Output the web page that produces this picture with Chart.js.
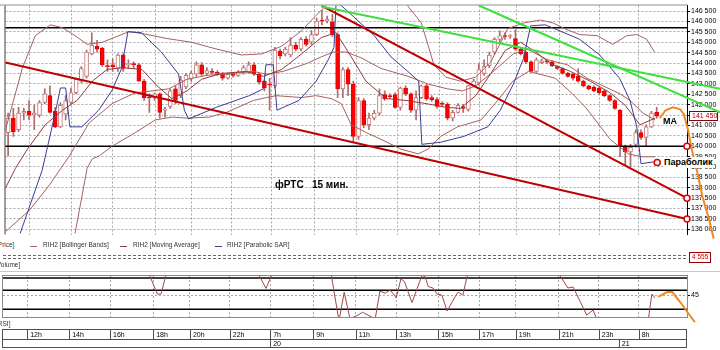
<!DOCTYPE html>
<html lang="ru">
<head>
<meta charset="UTF-8">
<title>фРТС 15 мин.</title>
<script src="https://cdn.jsdelivr.net/npm/chart.js@4"></script>
<style>
  body { margin: 0; background: #fff; }
  #wrap { position: relative; width: 720px; height: 350px; overflow: hidden;
          font-family: 'Liberation Sans', Arial, sans-serif; }
  canvas { position: absolute; left: 0; }
  #priceChart { top: 0; }
  #rsiChart { top: 270px; }
  .lbl { position: absolute; white-space: pre; line-height: 1; }
  .small { font-size: 6.5px; color: #333; }
  .note { font-weight: bold; color: #000; }
  .dash { position: absolute; width: 7px; height: 0; border-top: 1px solid; }
</style>
</head>
<body>
<div id="wrap">
  <canvas id="priceChart" width="720" height="240"></canvas>
  <canvas id="rsiChart" width="720" height="80"></canvas>

  <div class="lbl note" style="left:275px;top:180px;font-size:10px">фРТС   15 мин.</div>
  <div class="lbl note" style="left:663px;top:117px;font-size:9px">MA</div>
  <div class="lbl note" style="left:664px;top:157px;font-size:9px;background:#fff;padding:1px 1px 1px 0">Параболик</div>

  <div class="lbl small" style="left:-4px;top:242px">[Price]</div>
  <div class="dash" style="left:30px;top:246px;border-color:#a86060"></div>
  <div class="lbl small" style="left:43px;top:242px">RIH2 [Bollinger Bands]</div>
  <div class="dash" style="left:120px;top:246px;border-color:#8c3c3c"></div>
  <div class="lbl small" style="left:133px;top:242px">RIH2 [Moving Average]</div>
  <div class="dash" style="left:215px;top:246px;border-color:#3c3c96"></div>
  <div class="lbl small" style="left:227px;top:242px">RIH2 [Parabolic SAR]</div>

  <div style="position:absolute;left:3px;top:255px;width:683px;height:2px;border-top:1px dashed #666;border-bottom:1px dashed #666"></div>
  <div class="lbl small" style="left:689px;top:252px;border:1px solid #900;color:#c00;padding:1px 2px;background:#fff">4 555</div>
  <div class="lbl small" style="left:-5px;top:262px">[Volume]</div>
  <div style="position:absolute;left:0;top:271px;width:720px;height:1px;background:#c8c8c8"></div>
  <div class="lbl small" style="left:-4px;top:321px">[RSI]</div>
</div>

<script>
  // 15-minute candles, RIH2
  const opens = [140650,141350,140790,141590,141680,141490,141490,142100,142430,141680,
    140930,141540,142100,142570,143130,143360,144440,144810,144720,143880,
    143920,143740,144390,143920,143970,143920,143130,142340,142340,142520,
    141730,141910,142760,142430,142850,143220,143460,143920,143500,143600,
    143550,143460,143270,143460,143410,143500,143550,143920,143460,143130,
    142990,142900,144580,144440,144390,144860,144670,145140,145000,145370,
    146070,146020,145980,145370,142760,143690,142990,140470,142200,141030,
    141350,141590,142480,142430,142480,141870,142800,142520,141730,142340,
    142900,142340,142240,142050,142010,141350,141630,141910,141770,142900,
    143040,143500,143880,144530,145140,145320,145280,145180,144670,144530,
    144060,143600,144020,144110,144060,143830,143740,143500,143460,143360,
    143130,142900,142850,142800,142660,142430,142200,141730,140000,139720,
    140090,140650,140420,140930,141630];
  const highs = [141590,141820,141870,141820,142200,141960,142200,142760,142900,141870,
    142100,142430,142800,143270,143830,144620,145460,145090,144760,144160,
    144200,144440,144440,144160,144060,143970,143220,142520,142570,142570,
    141870,142760,142900,143360,143500,143600,144060,144020,143780,143740,
    143640,143550,143500,143550,143640,143880,144060,144020,143500,143180,
    143270,144760,144670,144760,145230,145000,145230,145280,145560,146160,
    146540,146260,146350,145460,143780,143780,143130,142340,142290,141590,
    141730,142760,142660,142520,142570,142850,142900,142570,142660,142940,
    142990,142430,142340,142150,142100,141730,142050,142010,142940,143220,
    143970,144160,144530,145230,145550,145460,145370,145600,144720,144580,
    144110,144250,144200,144160,144110,143880,143780,143550,143500,143740,
    143180,142940,142900,142850,142710,142480,142240,141770,140050,140090,
    140790,140790,141030,141680,141870];
  const lows = [139530,140470,140700,141260,141260,140790,141400,142050,141590,140890,
    140890,141260,142050,142520,143040,143270,144390,144530,143830,143600,
    143600,143600,143600,143740,143740,143130,142200,141630,142200,141350,
    141400,141820,142050,142340,142760,143130,143360,143410,143410,143460,
    143410,143180,143220,143320,143360,143460,143500,143410,142990,142660,
    141730,142800,144200,144340,144300,144580,144580,144810,144900,145320,
    145840,145930,145280,142340,142340,142430,140230,140330,140890,140790,
    141260,141490,142200,142290,141820,141730,142430,141630,141260,142290,
    142200,142150,141820,141910,141260,141210,141590,141630,141680,142850,
    142940,143410,143780,144440,145000,145140,145180,144620,144390,143970,
    143550,143550,143970,143970,143830,143690,143460,143320,143180,143080,
    142850,142710,142620,142520,142380,142150,141770,139490,139070,139020,
    139950,140330,140000,140890,141350];
  const closes = [141350,140700,141590,141680,141490,141590,142100,142520,141630,140930,
    141960,142200,142570,143220,143740,144530,144860,144670,143920,143830,
    143830,144390,143740,143970,143920,143130,142340,142320,142520,141630,
    141770,142660,142200,143180,143410,143500,143920,143460,143640,143550,
    143500,143270,143460,143410,143550,143780,143920,143460,143080,142800,
    142940,144620,144340,144670,144860,144670,145140,144900,145370,146020,
    146020,146120,145370,142760,143690,142990,140470,142200,141030,141350,
    141590,142430,142290,142380,141870,142800,142520,141730,142340,142900,
    142290,142240,141910,142010,141350,141630,141960,141820,142900,143130,
    143690,143830,144390,145140,145320,145280,145320,144670,144440,144060,
    143600,144160,144110,144060,143880,143740,143500,143360,143270,143130,
    142900,142760,142660,142570,142430,142200,141820,140000,139720,139950,
    140650,140420,140930,141590,141450];

  // indicators as [candle index, price]
  const bbUpper = [[-0.5,140790],[2.7,143740],[5.2,145320],[8.1,145840],[10.4,145700],[12.8,145320],
    [15.1,144900],[18,145000],[23.1,145510],[25.6,145420],[30.4,145180],[35.1,145000],[39.9,144670],
    [44.6,144390],[48.5,144440],[52.3,144810],[56.1,145560],[58.9,146300],[60.8,146770],[62.7,147800],
    [74.2,147800],[76.5,146720],[79,145930],[80.3,144860],[81.4,143920],[83.7,143320],[86.5,143130],
    [89.4,143320],[92.3,144060],[95.5,145650],[98.5,145930],[101.8,146070],[104.2,145930],[106.9,145600],
    [109.3,145370],[112.6,145320],[115.6,144900],[118.3,145320],[120.2,145370],[122.1,145140],[123.6,144530]];
  const bbMiddle = [[-0.5,135890],[4.1,136920],[7.9,138130],[11.7,139530],[15.5,141120],[19.9,142050],
    [24.3,142570],[27.5,142660],[30.7,142760],[34.2,143220],[38,143410],[43.1,143500],[46.9,143600],
    [49.4,143460],[52.6,143600],[57,143970],[59.9,144300],[62.2,144530],[64.6,144530],[67.5,144250],
    [71.3,143740],[76.5,143360],[80.3,142990],[84,142760],[86.9,142660],[89.4,142900],[92.3,143500],
    [96.6,144440],[99.3,144670],[103.1,144160],[106.9,143920],[110.7,143270],[114.6,142800],[117,142520],
    [118.9,142200],[121.4,141590],[123.7,141260]];
  const bbLower = [[12.8,135800],[15.1,138930],[16.1,139390],[17.4,139530],[19.9,140000],[24.3,140650],
    [28.1,141260],[31.3,141400],[34.2,141350],[38.5,141400],[41.8,141630],[46.9,142200],[49.4,142340],
    [51.3,142430],[56.1,142340],[58.9,142430],[61.8,142290],[63.7,142050],[65.6,141030],[68.5,140650],
    [71.3,140330],[75.1,139860],[78.4,139630],[80.3,139860],[82.7,140470],[85.9,140930],[90.4,141260],
    [93.6,142200],[96.5,143130],[99.5,143600],[104.6,143270],[107.9,142520],[110.4,141870],[112.3,141260],
    [115.1,140330],[118.6,139630],[121.2,139490],[123.7,139490]];
  const movingAvg = [[-0.5,137990],[1.4,138930],[3.7,139860],[7.1,141030],[10.4,141730],[13.2,142200],
    [16.1,143130],[18.9,143690],[21.8,143780],[25.6,143690],[28.5,142900],[31.3,142290],[34.2,142660],
    [37,143220],[40.8,143500],[45.6,143600],[48.8,143360],[52.3,143690],[56.1,144440],[59.9,145230],
    [62.7,145460],[65.6,144300],[68.4,143130],[72.3,142290],[76.1,142200],[79.9,142050],[83.7,141870],
    [86.5,141820],[89.4,142430],[92.3,143500],[95.1,144620],[98,145000],[100.9,144530],[103.7,143970],
    [107.5,143600],[111.3,143130],[115.1,142570],[118,141960],[120.8,141030],[123.7,141350]];
  const parabolicSar = [[2.3,135800],[6.5,138830],[9,141590],[10,142800],[11,142800],[11.8,140930],
    [14.1,140930],[17.3,141730],[19.8,142660],[21.7,143740],[22.9,145510],[25.5,145460],[29.3,144530],
    [32.6,143460],[33.7,141730],[34.5,141310],[39.8,141870],[46.1,142430],[48.8,142760],[49.3,143920],
    [50.7,143920],[51.4,141730],[55.6,142200],[58.9,143130],[61.3,144200],[62.3,144760],[62.7,146870],
    [63.7,146770],[70,145320],[73.2,144300],[76.4,143600],[78.5,143130],[79.1,140090],[82.7,140190],
    [87.1,140470],[91.7,140930],[94.1,141730],[96.6,142990],[98.5,144200],[99.9,145790],[102.7,145840],
    [105,145600],[109.3,145140],[113.1,144390],[116.9,143270],[118.9,142200],[120.2,140930],[121,139160],
    [123.6,139250]];

  // hand-drawn lines
  const channelLow = [[-0.5,144030],[129.8,136500]];
  const channelHigh = [[59.9,146770],[129.8,137500]];
  const greenSteep = [[90,146770],[136.1,141630]];
  const greenFlat = [[59.9,146720],[136.1,142760]];
  const levelPrices = [145700, 140000];
  const forecast = [[124.6,141350],[125.7,141730],[127.1,141870],[128.5,141770],[129.2,141540],
    [130,140790],[130.7,139860],[131.7,138830],[132.8,137530],[134,136500],[134.9,135560]];
  const markers = [[129.8,140000],[129.8,137500],[129.8,136500],[124.1,139210]];

  // RSI
  const rsi = [[-0.5,74],[26.8,74],[28.9,46],[29.6,46],[30.4,63],[31,74],[47.5,74],[49.6,52],[51.3,74],
    [61.8,74],[63.5,18],[64.5,48],[65.6,20],[67.1,24],[68,27],[70.4,20],[71.3,49],[72.3,47],[73.2,50],
    [73.8,47],[74.4,42],[75.3,62],[76,59],[77.4,37],[78.4,52],[79.3,65.5],[79.9,64.5],[80.5,54],
    [81.4,52.4],[82.2,46],[83.1,45],[84.1,28.3],[85.6,43],[86.2,48.2],[87.1,45],[88,67],[104,74],
    [105.8,64],[107.1,52.4],[108.1,53.5],[110.7,24],[111.9,29.3],[112.6,20],[121.5,18],[122.5,22],
    [123.1,46],[123.7,42]];
  const rsiForecast = [[124.3,43],[126,48.2],[127,48.2],[128.5,37.7],[130,26.2],[131.3,16.7]];
  const rsiLevels = [63, 50, 30];

  // axes
  const priceTicks = [136000,136500,137000,137500,138000,138500,139000,139500,140000,140500,
    141000,141500,142000,142500,143000,143500,144000,144500,145000,145500,146000,146500];
  const timeLabels = ['12h','14h','16h','18h','20h','22h','7h','9h','11h','13h','15h','17h','19h','21h','23h','8h'];
  const timeTickIdx = [4.1,12.1,19.9,28.1,35.1,42.7,50.4,58.6,66.7,74.4,82.4,90.2,97.2,105.4,113,120.6];
  const dayLabels = ['20', '21'];
  const dayTickIdx = [50.4, 116.8];

  const X_MIN = -0.5, X_MAX = 129.8;
  const FONT = "'Liberation Sans', Arial, sans-serif";
  Chart.defaults.font.family = FONT;

  const fmt = v => String(v).replace(/\B(?=(\d{3})+(?!\d))/g, ' ');
  const isUp = i => closes[i] >= opens[i];
  const fixX = s => { s.min = X_MIN; s.max = X_MAX; };

  function lineSet(points, color, width, order, extra) {
    return Object.assign({
      type: 'line', data: points, borderColor: color, borderWidth: width,
      pointRadius: 0, fill: false, tension: 0, order: order
    }, extra || {});
  }

  const priceFrame = {
    id: 'priceFrame',
    beforeDatasetsDraw(chart) {
      const { ctx, chartArea: a, scales } = chart;
      ctx.save();
      ctx.strokeStyle = '#909090';
      ctx.lineWidth = 1;
      ctx.beginPath();
      ctx.moveTo(0, a.top - 0.5);
      ctx.lineTo(a.right, a.top - 0.5);
      ctx.stroke();
      ctx.strokeStyle = '#404040';
      ctx.beginPath();
      ctx.moveTo(a.left - 0.5, a.top);
      ctx.lineTo(a.left - 0.5, a.bottom);
      ctx.stroke();

      // last price tag on the axis
      const last = closes[closes.length - 1];
      const y = Math.round(scales.y.getPixelForValue(last));
      const x = a.right + 2;
      ctx.fillStyle = '#fff';
      ctx.fillRect(x, y - 5, 29, 10);
      ctx.strokeStyle = '#8b0000';
      ctx.strokeRect(x + 0.5, y - 4.5, 28, 9);
      ctx.fillStyle = '#b00000';
      ctx.font = '7px ' + FONT;
      ctx.textBaseline = 'middle';
      ctx.fillText(fmt(last), x + 3, y + 0.5);
      ctx.restore();
    }
  };

  new Chart(document.getElementById('priceChart'), {
    type: 'bar',
    data: {
      datasets: [
        {
          type: 'bar', label: 'wicks',
          data: closes.map((c, i) => ({ x: i, y: [lows[i], highs[i]] })),
          backgroundColor: '#b06a6a', barThickness: 1, grouped: false, order: 20
        },
        {
          type: 'bar', label: 'bodies',
          data: closes.map((c, i) => ({ x: i, y: [opens[i], c] })),
          backgroundColor: ctx => isUp(ctx.dataIndex) ? '#ffffff' : '#ff0000',
          borderColor: ctx => isUp(ctx.dataIndex) ? '#c27878' : '#e80000',
          borderWidth: 1, borderSkipped: false, barThickness: 4, minBarLength: 1,
          grouped: false, order: 19
        },
        lineSet([[X_MIN, levelPrices[0]], [X_MAX, levelPrices[0]]], '#000', 1.5, 8),
        lineSet([[X_MIN, levelPrices[1]], [X_MAX, levelPrices[1]]], '#000', 1.5, 8),
        lineSet(bbUpper, '#a86060', 1, 7),
        lineSet(bbMiddle, '#a86060', 1, 7),
        lineSet(bbLower, '#a86060', 1, 7),
        lineSet(movingAvg, '#8c3c3c', 1, 6),
        lineSet(parabolicSar, '#3c3c96', 1, 5),
        lineSet(channelLow, '#c00000', 2, 4),
        lineSet(channelHigh, '#c00000', 2, 4),
        lineSet(greenSteep, '#3ee03e', 2, 3, { clip: false }),
        lineSet(greenFlat, '#3ee03e', 2, 3, { clip: false }),
        lineSet(forecast, '#f28a1e', 2, 2, { clip: false }),
        lineSet(markers, '#e00000', 1, 1, {
          showLine: false, clip: false, pointRadius: 3, pointBorderWidth: 1.5,
          pointBorderColor: '#e00000', pointBackgroundColor: '#fff'
        })
      ]
    },
    options: {
      responsive: false,
      animation: false,
      layout: { padding: { top: 2, left: 3, right: 0, bottom: 2 } },
      plugins: { legend: { display: false }, tooltip: { enabled: false } },
      scales: {
        x: {
          type: 'linear', bounds: 'data', offset: false,
          afterDataLimits: fixX,
          afterBuildTicks: s => { s.ticks = timeTickIdx.map(v => ({ value: v })); },
          ticks: { display: false },
          grid: { color: '#a8a8a8', drawTicks: false, offset: false },
          border: { display: false, dash: [2, 2] },
          afterFit: s => { s.height = 0; }
        },
        y: {
          position: 'right', min: 135750, max: 146770,
          afterBuildTicks: s => { s.ticks = priceTicks.map(v => ({ value: v })); },
          ticks: { autoSkip: false, font: { size: 7 }, color: '#000', padding: 1, callback: v => fmt(v) },
          grid: { color: '#a8a8a8', tickColor: '#000', tickLength: 3 },
          border: { display: true, color: '#000', dash: [2, 2] },
          afterFit: s => { s.width = 33; }
        }
      }
    },
    plugins: [priceFrame]
  });

  const rsiFrame = {
    id: 'rsiFrame',
    beforeDatasetsDraw(chart) {
      const { ctx, chartArea: a, scales } = chart;
      ctx.save();
      ctx.lineWidth = 1;
      ctx.strokeStyle = '#8a8a8a';
      ctx.strokeRect(a.left - 0.5, a.top - 0.5, a.right - a.left + 1, a.bottom - a.top + 1);
      // time axis boxes
      const r1 = 59.5, r2 = 69.5, r3 = 77.5;
      ctx.strokeStyle = '#505050';
      ctx.strokeRect(a.left - 0.5, r1, a.right - a.left, r3 - r1);
      ctx.beginPath();
      ctx.moveTo(a.left, r2);
      ctx.lineTo(a.right, r2);
      timeTickIdx.forEach(v => {
        const x = Math.round(scales.x.getPixelForValue(v)) + 0.5;
        ctx.moveTo(x, r1); ctx.lineTo(x, r2);
      });
      dayTickIdx.forEach(v => {
        const x = Math.round(scales.x.getPixelForValue(v)) + 0.5;
        ctx.moveTo(x, r2); ctx.lineTo(x, r3);
      });
      ctx.stroke();
      ctx.restore();
    }
  };

  new Chart(document.getElementById('rsiChart'), {
    type: 'line',
    data: {
      datasets: [
        lineSet([[X_MIN, rsiLevels[0]], [X_MAX, rsiLevels[0]]], '#000', 1.5, 5),
        lineSet([[X_MIN, rsiLevels[1]], [X_MAX, rsiLevels[1]]], '#000', 1.5, 5),
        lineSet([[X_MIN, rsiLevels[2]], [X_MAX, rsiLevels[2]]], '#000', 1.5, 5),
        lineSet(rsi, '#a04848', 1, 3),
        lineSet(rsiForecast, '#f28a1e', 2, 1, { clip: false })
      ]
    },
    options: {
      responsive: false,
      animation: false,
      layout: { padding: { top: 6, left: 3, right: 0, bottom: 0 } },
      plugins: { legend: { display: false }, tooltip: { enabled: false } },
      scales: {
        x: {
          type: 'linear', bounds: 'data', position: 'bottom', weight: 0,
          afterDataLimits: fixX,
          afterBuildTicks: s => { s.ticks = timeTickIdx.map(v => ({ value: v })); },
          ticks: {
            autoSkip: false, maxRotation: 0, align: 'start', labelOffset: 3, padding: 14,
            font: { size: 7 }, color: '#000', callback: (v, i) => timeLabels[i]
          },
          grid: { color: '#a8a8a8', drawTicks: false },
          border: { display: false, dash: [2, 2] },
          afterFit: s => { s.height = 22; }
        },
        x2: {
          type: 'linear', bounds: 'data', position: 'bottom', weight: 1,
          afterDataLimits: fixX,
          afterBuildTicks: s => { s.ticks = dayTickIdx.map(v => ({ value: v })); },
          ticks: {
            autoSkip: false, maxRotation: 0, align: 'start', labelOffset: 3, padding: 1,
            font: { size: 7 }, color: '#000', callback: (v, i) => dayLabels[i]
          },
          grid: { display: false, drawTicks: false },
          border: { display: false },
          afterFit: s => { s.height = 11; }
        },
        y: {
          position: 'right', min: 22, max: 65,
          afterBuildTicks: s => { s.ticks = [{ value: 45 }]; },
          ticks: { font: { size: 7 }, color: '#000', padding: 1 },
          grid: { color: '#a8a8a8', tickColor: '#000', tickLength: 3 },
          border: { display: true, color: '#000', dash: [2, 2] },
          afterFit: s => { s.width = 33; }
        }
      }
    },
    plugins: [rsiFrame]
  });
</script>
</body>
</html>
